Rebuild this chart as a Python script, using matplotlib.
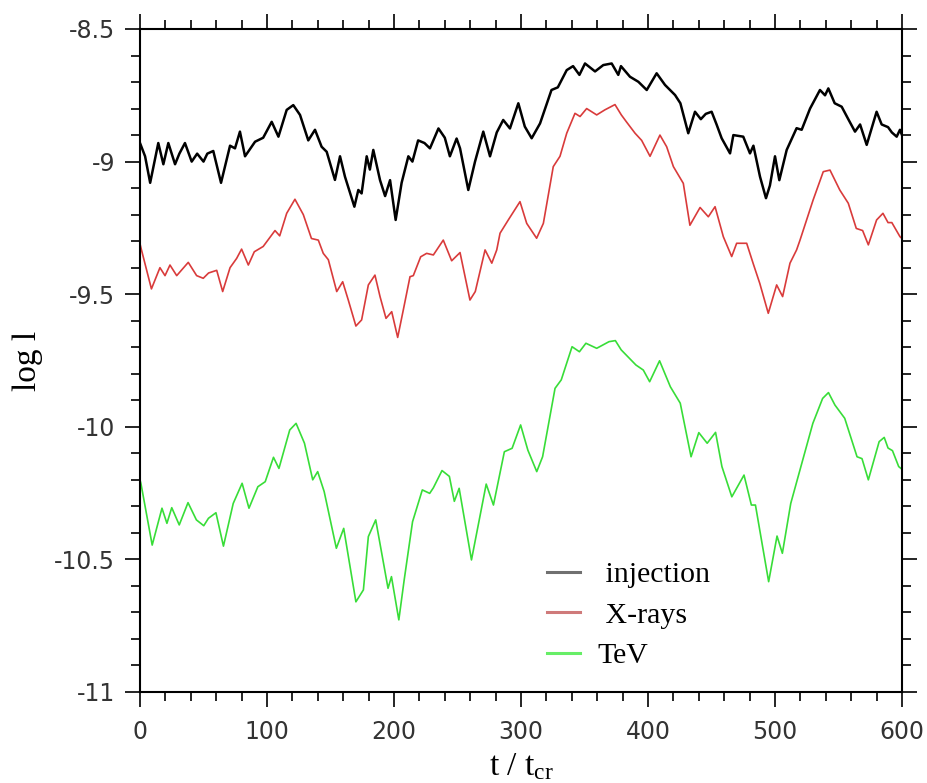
import matplotlib
matplotlib.use("Agg")
import matplotlib.pyplot as plt
from matplotlib.lines import Line2D
from matplotlib.ticker import MultipleLocator, FuncFormatter

plt.rcParams['axes.unicode_minus'] = False
plt.rcParams['mathtext.fontset'] = 'custom'
plt.rcParams['mathtext.rm'] = 'Liberation Serif'
plt.rcParams['mathtext.it'] = 'Liberation Serif:italic'

# injection (black)
inj_t = [0, 4, 8, 14.4, 18.4, 22.3, 27.6, 31, 35.4, 40.7, 45, 50, 53, 57.7, 63.8, 70.9, 74.8,
         78.7, 82.7, 90.6, 97, 103.7, 109, 115.5, 120.7, 126, 132.5, 137.8, 143, 147, 153.5,
         157.5, 161.4, 168.8, 171.9, 174.5, 178.5, 181, 183.7, 189, 193, 196.9, 201.3, 206,
         211.3, 214.5, 219, 224, 228.3, 235, 240, 244, 249.3, 252, 258.5, 263.8, 270.3, 275.6,
         280.9, 286, 291.3, 297.9, 303, 308.4, 315, 324, 329, 336, 341, 346, 350.4, 358.3,
         364.8, 371.4, 376.6, 378.7, 385.8, 392.4, 399, 406.8, 413.4, 421.3, 425.5, 431.7,
         437, 441.6, 445.5, 450.1, 454, 458, 464.6, 467.2, 475, 480.3, 483, 488.2, 492.9, 496,
         500, 503.4, 509.2, 517, 521, 527.6, 535.4, 539.4, 542, 547, 552.5, 557.7, 563, 567,
         572.2, 580, 584, 589, 592, 595.8, 598.4, 600]
inj_v = [-8.93, -8.98, -9.08, -8.93, -9.01, -8.93, -9.01, -8.97, -8.93, -9.0, -8.97, -9.0, -8.97,
         -8.96, -9.08, -8.94, -8.95, -8.887, -8.98, -8.925, -8.91, -8.85, -8.906, -8.805,
         -8.787, -8.824, -8.92, -8.88, -8.944, -8.963, -9.069, -8.98, -9.057, -9.17, -9.107,
         -9.12, -8.98, -9.03, -8.956, -9.07, -9.13, -9.07, -9.22, -9.08, -8.98, -9.0, -8.92,
         -8.93, -8.95, -8.875, -8.91, -8.98, -8.913, -8.95, -9.107, -9.0, -8.887, -8.98, -8.89,
         -8.843, -8.875, -8.78, -8.868, -8.912, -8.856, -8.73, -8.72, -8.655, -8.64, -8.673,
         -8.63, -8.66, -8.636, -8.63, -8.673, -8.64, -8.68, -8.699, -8.73, -8.667, -8.711,
         -8.749, -8.78, -8.893, -8.812, -8.84, -8.82, -8.812, -8.86, -8.912, -8.969, -8.9,
         -8.906, -8.969, -8.94, -9.057, -9.138, -9.09, -8.98, -9.07, -8.956, -8.874, -8.88,
         -8.8, -8.73, -8.75, -8.724, -8.78, -8.793, -8.84, -8.887, -8.86, -8.937, -8.812,
         -8.86, -8.87, -8.89, -8.906, -8.88, -8.9]

# X-rays (red)
xr_t = [0, 1, 9, 15.7, 19.7, 23.6, 28.9, 38, 44.6, 49.8, 54, 60.4, 65.1, 70.9, 76.1, 80, 85.3,
        90, 97, 106.3, 110, 115.5, 122, 128.6, 135, 140.4, 144.3, 148.3, 154.9, 159.6, 164,
        170, 174.5, 179.8, 185, 189, 193.7, 198.2, 202.9, 207.3, 212.6, 215.2, 221, 225.7, 231,
        238.8, 245.4, 252, 259.8, 264, 271.7, 277, 280.9, 283.5, 290, 299.2, 304.5, 312.3,
        317.6, 325.4, 330.7, 336, 342.5, 346.5, 351.7, 359.6, 366, 374, 379, 383, 389.8, 395,
        401.6, 409.4, 414.7, 420, 427.8, 433, 441, 447.5, 452.8, 459.3, 465.9, 469.8, 477.7,
        483, 488, 494.7, 501.3, 506, 511.8, 517, 519.7, 530, 538, 543.3, 551, 557.7, 564, 569,
        573.5, 580, 585, 589, 592, 598.4, 600]
xr_v = [-9.31, -9.33, -9.48, -9.40, -9.43, -9.39, -9.43, -9.38, -9.43, -9.44, -9.42, -9.41,
        -9.49, -9.40, -9.365, -9.33, -9.39, -9.34, -9.32, -9.26, -9.28, -9.195, -9.142, -9.2,
        -9.29, -9.296, -9.346, -9.37, -9.49, -9.453, -9.522, -9.62, -9.597, -9.465, -9.428,
        -9.509, -9.591, -9.566, -9.663, -9.56, -9.434, -9.43, -9.359, -9.346, -9.352, -9.296,
        -9.374, -9.343, -9.522, -9.49, -9.333, -9.383, -9.333, -9.27, -9.22, -9.151, -9.233,
        -9.289, -9.233, -9.019, -8.98, -8.893, -8.818, -8.83, -8.8, -8.824, -8.805, -8.785,
        -8.824, -8.85, -8.893, -8.92, -8.98, -8.9, -8.944, -9.019, -9.082, -9.24, -9.173,
        -9.208, -9.17, -9.283, -9.358, -9.308, -9.308, -9.387, -9.459, -9.572, -9.465,
        -9.509, -9.383, -9.333, -9.296, -9.145, -9.038, -9.032, -9.107, -9.157, -9.252,
        -9.26, -9.314, -9.22, -9.195, -9.23, -9.23, -9.283, -9.29]

# TeV (green)
tev_t = [0, 0.7, 9.6, 17.3, 21.2, 25, 30.9, 37.8, 44.4, 50.2, 53.9, 59.8, 65.7, 73.4, 80.4,
         85.8, 92.8, 98.6, 105.1, 109.4, 117.9, 122.9, 129.5, 136, 139.9, 145, 154.6, 160.4,
         170, 175.9, 179.8, 185.6, 189.4, 195.3, 198, 203.8, 208, 214.6, 222.3, 228.1, 231,
         237.8, 243.6, 247.5, 251.3, 261, 272.6, 278.3, 286.9, 293, 299.7, 305.4, 312.4, 317,
         326.8, 331.7, 340.2, 346, 351.1, 359.6, 369.3, 374.3, 378.9, 390.5, 396.3, 401.3,
         409.1, 417.6, 425.4, 433.9, 440, 446.6, 453.2, 458.2, 466, 475.6, 481.4, 484.6, 495,
         501.6, 505.8, 512.4, 518.9, 529.8, 537.5, 542.1, 547.2, 554.9, 564.6, 568.5, 573.5,
         582, 586, 589, 592.5, 597.4, 600]
tev_v = [-10.2, -10.213, -10.446, -10.307, -10.364, -10.305, -10.37, -10.286, -10.351, -10.373,
         -10.345, -10.324, -10.45, -10.289, -10.213, -10.307, -10.226, -10.207, -10.115,
         -10.157, -10.012, -9.987, -10.062, -10.2, -10.169, -10.244, -10.458, -10.383, -10.66,
         -10.615, -10.414, -10.351, -10.452, -10.609, -10.565, -10.728, -10.578, -10.358,
         -10.238, -10.251, -10.23, -10.165, -10.187, -10.281, -10.232, -10.502, -10.216,
         -10.295, -10.094, -10.081, -9.993, -10.088, -10.169, -10.113, -9.855, -9.823, -9.698,
         -9.717, -9.685, -9.704, -9.679, -9.675, -9.71, -9.767, -9.786, -9.83, -9.751, -9.849,
         -9.911, -10.113, -10.022, -10.062, -10.021, -10.15, -10.264, -10.182, -10.295,
         -10.295, -10.584, -10.412, -10.477, -10.289, -10.176, -9.987, -9.893, -9.871, -9.918,
         -9.968, -10.113, -10.12, -10.2, -10.056, -10.04, -10.08, -10.09, -10.15, -10.16]

labels = [" injection", " X-rays", "TeV"]
line_colors = ["#000000", "#d93b3b", "#38dd38"]
legend_colors = ["#707070", "#cf7a7a", "#66ee66"]

fig = plt.figure(figsize=(9.28, 7.83), dpi=100)
ax = fig.add_axes([140 / 928, 1 - 692 / 783, 762 / 928, 663 / 783])

ax.plot(inj_t, inj_v, color=line_colors[0], lw=1.8)
ax.plot(xr_t, xr_v, color=line_colors[1], lw=1.2)
ax.plot(tev_t, tev_v, color=line_colors[2], lw=1.2)

ax.set_xlim(0, 600)
ax.set_ylim(-11, -8.5)
ax.xaxis.set_major_locator(MultipleLocator(100))
ax.xaxis.set_minor_locator(MultipleLocator(20))
ax.yaxis.set_major_locator(MultipleLocator(0.5))
ax.yaxis.set_minor_locator(MultipleLocator(0.1))
ax.yaxis.set_major_formatter(FuncFormatter(lambda v, p: f"{v:g}"))

for s in ax.spines.values():
    s.set_linewidth(1.5)
ax.tick_params(which="both", direction="out", top=True, right=True, width=1.2,
               colors="black", labelcolor="#333333", labelsize=17)
ax.tick_params(which="major", length=11)
ax.tick_params(which="minor", length=6.5)
ax.tick_params(axis="x", pad=9)
ax.tick_params(axis="y", pad=7)

serif = ["Liberation Serif", "DejaVu Serif"]
ax.set_xlabel(r"t / t$_{\mathrm{cr}}$", fontsize=24, family=serif)
ax.set_ylabel("log l", fontsize=24, family=serif)
ax.xaxis.set_label_coords(0.5, -0.09)
ax.yaxis.set_label_coords(-0.127, 0.5)

handles = [Line2D([], [], color=c, lw=2.2) for c in legend_colors]
ax.legend(handles, labels, loc="upper left", bbox_to_anchor=(0.534, 0.197), frameon=False,
          borderpad=0, borderaxespad=0, handlelength=1.1, handletextpad=0.6,
          labelspacing=0.45, prop={"family": serif, "size": 21.5})

fig.savefig("out.png", dpi=100)
